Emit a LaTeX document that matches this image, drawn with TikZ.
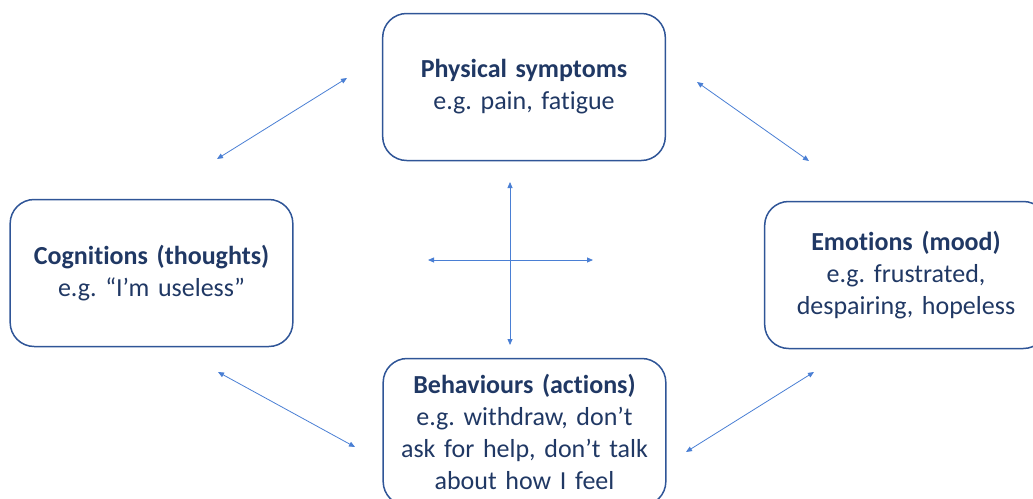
\documentclass[tikz,border=0pt]{standalone}
\usepackage{fontspec}
\setmainfont[Ligatures=NoCommon]{Carlito}
\usepackage{tkz-euclide}
\usetikzlibrary{arrows.meta}
\definecolor{boxblue}{HTML}{2F5597}
\definecolor{txtblue}{HTML}{203864}
\definecolor{arrblue}{HTML}{4A7FD4}
\frenchspacing
\begin{document}
\begin{tikzpicture}[x=1pt,y=-1pt,
	box/.style={draw=boxblue,line width=1.5pt,rounded corners=24pt,
		minimum width=282pt,minimum height=147pt,text width=276pt,
		align=center,text=txtblue,font=\fontsize{26}{32}\selectfont},
	link/.style={{Triangle[length=6pt,width=5pt]}-{Triangle[length=6pt,width=5pt]},
		color=arrblue,line width=0.8pt}]
	\useasboundingbox (0,0) rectangle (1033,498);

	\node[box] (phys) at (524,87) {\textbf{Physical symptoms}\\e.g. pain, fatigue};
	\node[box] (cogn) at (151.5,273) {\textbf{Cognitions (thoughts)}\\e.g. “I’m useless”};
	\node[box] (emot) at (906,275) {\textbf{Emotions (mood)}\\e.g. frustrated,\\despairing, hopeless};
	\node[box] (behav) at (524.5,432) {\textbf{Behaviours (actions)}\\e.g. withdraw, don’t\\ask for help, don’t talk\\about how I feel};

	\tkzDefPoint(217,159){a1}
	\tkzDefPoint(347,78){a2}
	\tkzDefPoint(697,82){b1}
	\tkzDefPoint(809,161){b2}
	\tkzDefPoint(218,372){c1}
	\tkzDefPoint(355,447){c2}
	\tkzDefPoint(686,452){d1}
	\tkzDefPoint(814,372){d2}

	\tkzDefPoint(510,182){v1}
	\tkzDefPoint(510,345){v2}
	\tkzDefPoint(428,260){h1}
	\tkzDefPoint(593,260){h2}

	\path[link] (a1) edge (a2);
	\path[link] (b1) edge (b2);
	\path[link] (c1) edge (c2);
	\path[link] (d1) edge (d2);
	\path[link] (v1) edge (v2);
	\path[link] (h1) edge (h2);
\end{tikzpicture}
\end{document}
